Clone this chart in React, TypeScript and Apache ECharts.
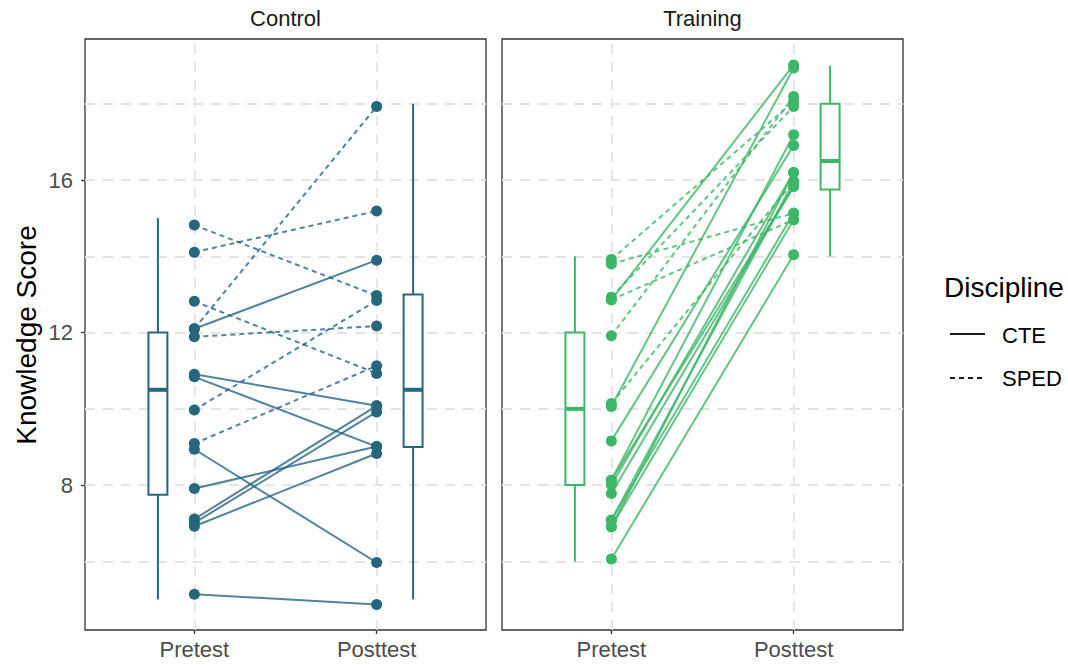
import React, { useEffect, useRef } from "react";
import * as echarts from "echarts";

const phases = ["Pretest", "Posttest"];
const phaseX = [1, 2];
const boxX = [0.8, 2.2];
const yTicks = [8, 12, 16];
const yMinor = [6, 10, 14, 18];
const panels = ["Control", "Training"];
const disciplines = ["CTE", "SPED"];

// Control group: pretest / posttest (jittered) and discipline per subject
const controlPre = [14.82, 14.11, 12.82, 12.1, 12.1, 11.89, 10.91, 10.84, 9.97, 9.09, 8.94, 7.91, 7.11, 7.01, 6.92, 5.14];
const controlPost = [12.97, 15.19, 10.93, 17.93, 13.9, 12.17, 10.08, 9.01, 12.84, 11.13, 5.97, 9.01, 10.08, 9.92, 8.83, 4.87];
const controlDisc = ["SPED", "SPED", "SPED", "SPED", "CTE", "SPED", "CTE", "CTE", "SPED", "SPED", "CTE", "CTE", "CTE", "CTE", "CTE", "CTE"];

// Training group
const trainingPre = [13.92, 13.8, 12.93, 12.86, 11.92, 10.14, 12.86, 10.06, 9.16, 8.13, 8.0, 7.78, 7.08, 6.91, 6.06, 8.13, 7.08, 6.91];
const trainingPost = [18.06, 15.13, 17.93, 14.96, 18.19, 15.96, 19.02, 18.94, 16.91, 17.19, 16.2, 15.83, 15.96, 16.2, 14.04, 15.83, 15.13, 14.96];
const trainingDisc = ["SPED", "SPED", "SPED", "SPED", "SPED", "SPED", "CTE", "CTE", "CTE", "CTE", "CTE", "CTE", "CTE", "CTE", "CTE", "CTE", "CTE", "CTE"];

// Boxplot stats [min, Q1, median, Q3, max]
const controlBoxPre = [5, 7.75, 10.5, 12, 15];
const controlBoxPost = [5, 9, 10.5, 13, 18];
const trainingBoxPre = [6, 8, 10, 12, 14];
const trainingBoxPost = [14, 15.75, 16.5, 18, 19];

const controlColor = "#26677F";
const trainingColor = "#3BB767";
const FONT = "'Liberation Sans', Arial, Helvetica, sans-serif";

function boxRenderer(color: string) {
  return (params: any, api: any) => {
    const x = api.value(0);
    const lo = api.coord([x, api.value(1)]);
    const q1 = api.coord([x, api.value(2)]);
    const med = api.coord([x, api.value(3)]);
    const q3 = api.coord([x, api.value(4)]);
    const hi = api.coord([x, api.value(5)]);
    const left = api.coord([x - 0.052, api.value(3)])[0];
    const right = api.coord([x + 0.052, api.value(3)])[0];
    const ls = { stroke: color, lineWidth: 2, fill: null };
    return {
      type: "group",
      children: [
        { type: "line", shape: { x1: lo[0], y1: lo[1], x2: q1[0], y2: q1[1] }, style: ls },
        { type: "line", shape: { x1: q3[0], y1: q3[1], x2: hi[0], y2: hi[1] }, style: ls },
        {
          type: "rect",
          shape: { x: left, y: q3[1], width: right - left, height: q1[1] - q3[1] },
          style: { fill: "#ffffff", stroke: color, lineWidth: 2 },
        },
        { type: "line", shape: { x1: left, y1: med[1], x2: right, y2: med[1] }, style: { stroke: color, lineWidth: 4 } },
      ],
    };
  };
}

function panelSeries(idx: number, pre: number[], post: number[], disc: string[], boxPre: number[], boxPost: number[], color: string) {
  const lineData = pre.map((p, i) => ({
    coords: [
      [phaseX[0], p],
      [phaseX[1], post[i]],
    ],
    lineStyle: { type: disc[i] === disciplines[1] ? [5, 4] : "solid" },
  }));
  const gridMarks = [...yTicks, ...yMinor].map((v) => ({ yAxis: v })).concat(phaseX.map((v) => ({ xAxis: v })) as any);
  return [
    {
      type: "scatter",
      xAxisIndex: idx,
      yAxisIndex: idx,
      data: [[1.5, 12]],
      symbolSize: 0,
      itemStyle: { opacity: 0 },
      silent: true,
      z: 0,
      markLine: {
        z: 0,
        silent: true,
        symbol: ["none", "none"],
        label: { show: false },
        lineStyle: { color: "#E4E4E4", type: [10, 8], width: 1.8 },
        emphasis: { disabled: true },
        data: gridMarks,
      },
    },
    {
      type: "lines",
      coordinateSystem: "cartesian2d",
      xAxisIndex: idx,
      yAxisIndex: idx,
      data: lineData,
      lineStyle: { color, width: 2, opacity: 0.8 },
      z: 2,
      silent: true,
    },
    {
      type: "custom",
      xAxisIndex: idx,
      yAxisIndex: idx,
      data: [
        [boxX[0], ...boxPre],
        [boxX[1], ...boxPost],
      ],
      renderItem: boxRenderer(color),
      z: 3,
      silent: true,
    },
    {
      type: "scatter",
      xAxisIndex: idx,
      yAxisIndex: idx,
      data: [...pre.map((v) => [phaseX[0], v]), ...post.map((v) => [phaseX[1], v])],
      symbolSize: 11,
      itemStyle: { color, opacity: 1 },
      z: 4,
      silent: true,
    },
  ];
}

function makeXAxis(idx: number) {
  return {
    type: "value",
    gridIndex: idx,
    min: 0.4,
    max: 2.6,
    axisLine: { show: false },
    splitLine: { show: false },
    axisTick: { show: true, length: 4, lineStyle: { color: "#333333", width: 1.3 }, customValues: phaseX },
    axisLabel: {
      customValues: phaseX,
      formatter: (v: number) => phases[phaseX.indexOf(v)] ?? "",
      color: "#4D4D4D",
      fontSize: 22,
      fontFamily: FONT,
      margin: 8,
    },
  };
}

function makeYAxis(idx: number) {
  return {
    type: "value",
    gridIndex: idx,
    min: 4.2,
    max: 19.7,
    axisLine: { show: false },
    splitLine: { show: false },
    axisTick: { show: idx === 0, length: 4, lineStyle: { color: "#333333", width: 1.3 }, customValues: yTicks },
    axisLabel: {
      show: idx === 0,
      customValues: yTicks,
      color: "#4D4D4D",
      fontSize: 22,
      fontFamily: FONT,
      margin: 12,
    },
  };
}

export default function App() {
  const ref = useRef<HTMLDivElement>(null);
  useEffect(() => {
    if (!ref.current) return;
    const chart = echarts.init(ref.current, undefined, { renderer: "svg" });
    const gridCommon = { top: 39, width: 401, height: 591, show: true, borderColor: "#333333", borderWidth: 1.3, backgroundColor: "transparent" };
    chart.setOption({
      animation: false,
      textStyle: { fontFamily: FONT },
      grid: [
        { left: 85, ...gridCommon },
        { left: 502, ...gridCommon },
      ],
      xAxis: [makeXAxis(0), makeXAxis(1)],
      yAxis: [makeYAxis(0), makeYAxis(1)],
      series: [
        ...panelSeries(0, controlPre, controlPost, controlDisc, controlBoxPre, controlBoxPost, controlColor),
        ...panelSeries(1, trainingPre, trainingPost, trainingDisc, trainingBoxPre, trainingBoxPost, trainingColor),
      ],
      graphic: [
        { type: "text", x: 285.5, y: 18, style: { text: panels[0], fontSize: 22, fontFamily: FONT, fill: "#1A1A1A", align: "center", verticalAlign: "middle" } },
        { type: "text", x: 702.5, y: 18, style: { text: panels[1], fontSize: 22, fontFamily: FONT, fill: "#1A1A1A", align: "center", verticalAlign: "middle" } },
        {
          type: "text",
          x: 26,
          y: 335,
          rotation: Math.PI / 2,
          style: { text: "Knowledge Score", fontSize: 28, fontFamily: FONT, fill: "#000000", align: "center", verticalAlign: "middle" },
        },
        { type: "text", x: 944, y: 287, style: { text: "Discipline", fontSize: 28, fontFamily: FONT, fill: "#000000", align: "left", verticalAlign: "middle" } },
        { type: "line", shape: { x1: 950, y1: 334, x2: 985, y2: 334 }, style: { stroke: "#1A1A1A", lineWidth: 2 } },
        { type: "text", x: 1002, y: 335, style: { text: disciplines[0], fontSize: 22, fontFamily: FONT, fill: "#000000", align: "left", verticalAlign: "middle" } },
        { type: "line", shape: { x1: 950, y1: 378, x2: 986, y2: 378 }, style: { stroke: "#1A1A1A", lineWidth: 2, lineDash: [5, 4] } },
        { type: "text", x: 1002, y: 378, style: { text: disciplines[1], fontSize: 22, fontFamily: FONT, fill: "#000000", align: "left", verticalAlign: "middle" } },
      ],
    });
    return () => chart.dispose();
  }, []);
  return <div ref={ref} style={{ position: "fixed", left: 0, top: 0, width: 1068, height: 665, background: "#ffffff" }} />;
}
